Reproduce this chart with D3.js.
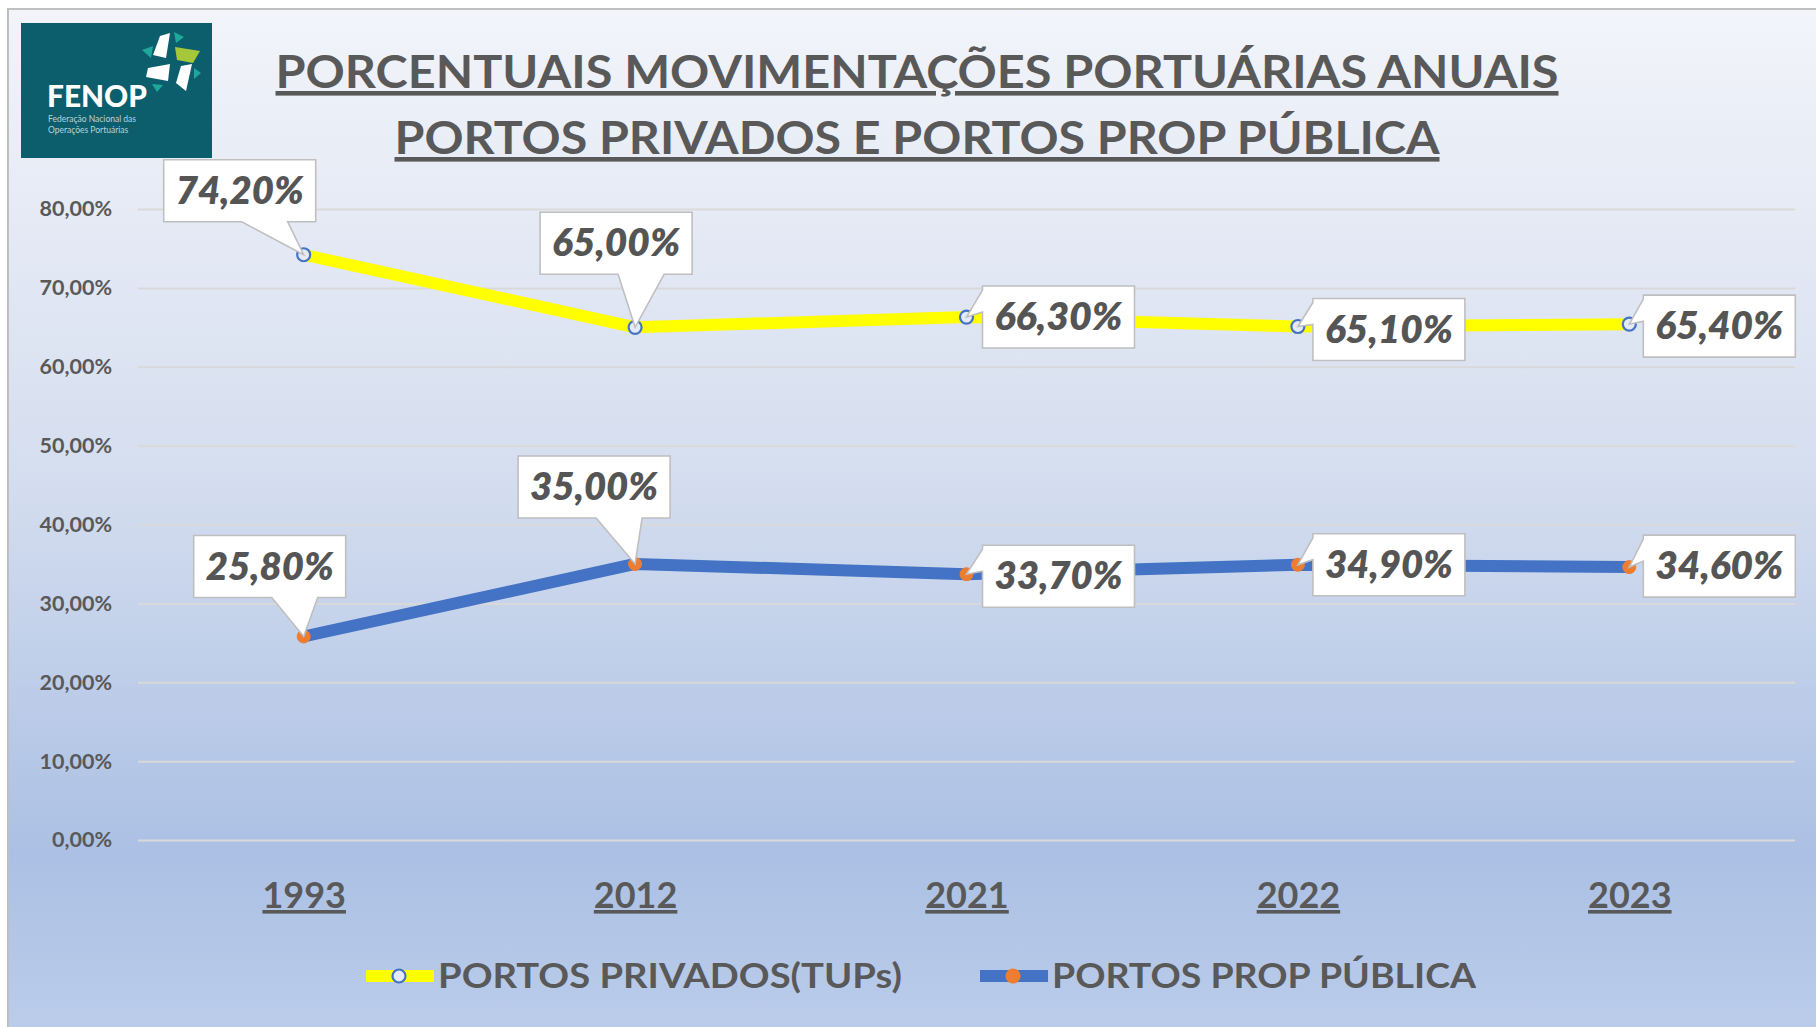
<!DOCTYPE html>
<html>
<head>
<meta charset="utf-8">
<script src="https://cdn.jsdelivr.net/npm/d3@7"></script>
<style>
  body { margin: 0; background: #fff; }
  svg text { font-family: Lato, "Open Sans", sans-serif; }
</style>
</head>
<body>
<svg id="chart" width="1816" height="1027"></svg>
<script>
// data
const years = ["1993", "2012", "2021", "2022", "2023"];
const privados = [74.2, 65.0, 66.3, 65.1, 65.4];
const publicos = [25.8, 35.0, 33.7, 34.9, 34.6];
const yTicks = [0, 10, 20, 30, 40, 50, 60, 70, 80];
const seriesNames = ["PORTOS PRIVADOS(TUPs)", "PORTOS PROP PÚBLICA"];
const titleLines = ["PORCENTUAIS MOVIMENTAÇÕES PORTUÁRIAS ANUAIS", "PORTOS PRIVADOS E PORTOS PROP PÚBLICA"];

// where each label box sits, relative to its point
const privOffsets = [[-64, -64, "bottom"], [-19, -84, "bottom"], [92, 0, "left"], [91, 3, "left"], [90, 2, "left"]];
const pubOffsets = [[-34, -70, "bottom"], [-41, -77, "bottom"], [92, 2, "left"], [91, 0, "left"], [90, -1, "left"]];

const svg = d3.select("#chart");
const grey = "#595959";
const fmt = d3.formatLocale({decimal: ",", thousands: ".", grouping: [3], currency: ["", ""]});
const pct2 = v => fmt.format(".2f")(v) + "%";

// background
const defs = svg.append("defs");
const grad = defs.append("linearGradient").attr("id", "bg").attr("x1", 0).attr("y1", 0).attr("x2", 0).attr("y2", 1);
grad.append("stop").attr("offset", "0%").attr("stop-color", "#f2f4fa");
grad.append("stop").attr("offset", "45%").attr("stop-color", "#d5deef");
grad.append("stop").attr("offset", "82%").attr("stop-color", "#abc0e4");
grad.append("stop").attr("offset", "100%").attr("stop-color", "#bccdeb");
svg.append("rect").attr("x", 8).attr("y", 9).attr("width", 1820).attr("height", 1030)
  .attr("fill", "url(#bg)").attr("stroke", "#c0c0c0").attr("stroke-width", 2);

// logo
const logo = svg.append("g");
logo.append("rect").attr("x", 21).attr("y", 23).attr("width", 191).attr("height", 135).attr("fill", "#0d5e6d");
const pieces = [
  ["160,36 170,33 166,58 153,55", "#ffffff"],
  ["175,47 200,51 193,63 177,60", "#a5c83a"],
  ["148,68 170,64 168,81 146,77", "#ffffff"],
  ["181,66 192,64 186,91 176,83", "#ffffff"],
  ["174,32 184,37 176,43", "#1ea89a"],
  ["142,50 153,46 151,58", "#1ea89a"],
  ["194,68 201,73 194,79", "#1ea89a"],
  ["152,84 163,85 157,92", "#1ea89a"]
];
logo.selectAll("polygon").data(pieces).join("polygon").attr("points", d => d[0]).attr("fill", d => d[1]);
logo.append("text").attr("x", 47).attr("y", 107).attr("font-size", 30).attr("font-weight", 900)
  .attr("fill", "#fff").attr("textLength", 100).attr("lengthAdjust", "spacingAndGlyphs").text("FENOP");
logo.append("text").attr("x", 48).attr("y", 122).attr("font-size", 8.5).attr("fill", "#b9d3d8").text("Federação Nacional das");
logo.append("text").attr("x", 48).attr("y", 133).attr("font-size", 8.5).attr("fill", "#b9d3d8").text("Operações Portuárias");

// title
svg.selectAll(".title").data(titleLines).join("text").attr("class", "title")
  .attr("x", 917).attr("y", (d, i) => 88 + i * 66).attr("text-anchor", "middle")
  .attr("font-size", 46).attr("font-weight", 700).attr("fill", grey)
  .attr("text-decoration", "underline")
  .attr("textLength", (d, i) => i === 0 ? 1283 : 1045).attr("lengthAdjust", "spacingAndGlyphs")
  .text(d => d);

// scales
const x = d3.scalePoint().domain(years).range([138, 1795]).padding(0.5);
const y = d3.scaleLinear().domain([0, 80]).range([840, 209]);

// y axis + gridlines
const yAxis = svg.append("g").attr("transform", "translate(138,0)")
  .call(d3.axisLeft(y).tickValues(yTicks).tickSize(-1657).tickPadding(26).tickFormat(pct2));
yAxis.select(".domain").remove();
yAxis.selectAll(".tick line").attr("stroke", "#d9d9d9").attr("stroke-width", 2);
yAxis.selectAll(".tick text").attr("font-size", 21.5).attr("font-weight", 700).attr("fill", grey)
  .attr("font-family", "Lato, sans-serif");

// x axis
const xAxis = svg.append("g").attr("transform", "translate(0,840)")
  .call(d3.axisBottom(x).tickSize(0).tickPadding(68));
xAxis.select(".domain").remove();
xAxis.selectAll(".tick text").attr("font-size", 36).attr("font-weight", 700).attr("fill", grey)
  .attr("font-family", "Lato, sans-serif").attr("text-decoration", "underline").attr("dy", 0);

// lines
const line = d3.line().x((d, i) => x(years[i])).y(d => y(d));
svg.append("path").datum(privados).attr("d", line).attr("fill", "none")
  .attr("stroke", "#ffff00").attr("stroke-width", 12).attr("stroke-linejoin", "round");
svg.append("path").datum(publicos).attr("d", line).attr("fill", "none")
  .attr("stroke", "#4472c4").attr("stroke-width", 12).attr("stroke-linejoin", "round");

// markers
svg.selectAll(".mpriv").data(privados).join("circle").attr("class", "mpriv")
  .attr("cx", (d, i) => x(years[i])).attr("cy", d => y(d)).attr("r", 6.5)
  .attr("fill", "#e4ebf7").attr("stroke", "#4472c4").attr("stroke-width", 2.2);
svg.selectAll(".mpub").data(publicos).join("circle").attr("class", "mpub")
  .attr("cx", (d, i) => x(years[i])).attr("cy", d => y(d)).attr("r", 6.5)
  .attr("fill", "#ed7d31").attr("stroke", "#ed7d31").attr("stroke-width", 1);

// callout labels
const bw = 152, bh = 62;
function callout(vals, offs) {
  vals.forEach((v, i) => {
    const px = x(years[i]), py = y(v);
    const cx = px + offs[i][0], cy = py + offs[i][1];
    const l = cx - bw / 2, r = cx + bw / 2, t = cy - bh / 2, b = cy + bh / 2;
    let d;
    if (offs[i][2] === "bottom") {
      const b1 = cx + 2, b2 = Math.min(cx + 48, r - 6);
      d = `M${l},${t}H${r}V${b}H${b2}L${px},${py}L${b1},${b}H${l}Z`;
    } else {
      d = `M${l},${t}H${r}V${b}H${l}V${t + 26}L${px},${py}L${l},${t + 4}Z`;
    }
    svg.append("path").attr("d", d).attr("fill", "#fff").attr("stroke", "#bfbfbf").attr("stroke-width", 1.6);
    svg.append("text").attr("x", cx).attr("y", cy + 13).attr("text-anchor", "middle")
      .attr("font-size", 37).attr("font-weight", 800).attr("font-style", "italic").attr("fill", "#555")
      .attr("textLength", 128).attr("lengthAdjust", "spacingAndGlyphs")
      .text(pct2(v));
  });
}
callout(privados, privOffsets);
callout(publicos, pubOffsets);

// legend
const legend = svg.append("g");
const legItems = [
  {name: seriesNames[0], x0: 366, stroke: "#ffff00", mFill: "#e4ebf7", mStroke: "#4472c4", tl: 464},
  {name: seriesNames[1], x0: 980, stroke: "#4472c4", mFill: "#ed7d31", mStroke: "#ed7d31", tl: 424}
];
legItems.forEach(it => {
  legend.append("line").attr("x1", it.x0).attr("x2", it.x0 + 68).attr("y1", 976).attr("y2", 976)
    .attr("stroke", it.stroke).attr("stroke-width", 12);
  legend.append("circle").attr("cx", it.x0 + 33).attr("cy", 976).attr("r", 6.5)
    .attr("fill", it.mFill).attr("stroke", it.mStroke).attr("stroke-width", 2.2);
  legend.append("text").attr("x", it.x0 + 72).attr("y", 988).attr("font-size", 35).attr("font-weight", 700)
    .attr("fill", grey).attr("textLength", it.tl).attr("lengthAdjust", "spacingAndGlyphs").text(it.name);
});
</script>
</body>
</html>
